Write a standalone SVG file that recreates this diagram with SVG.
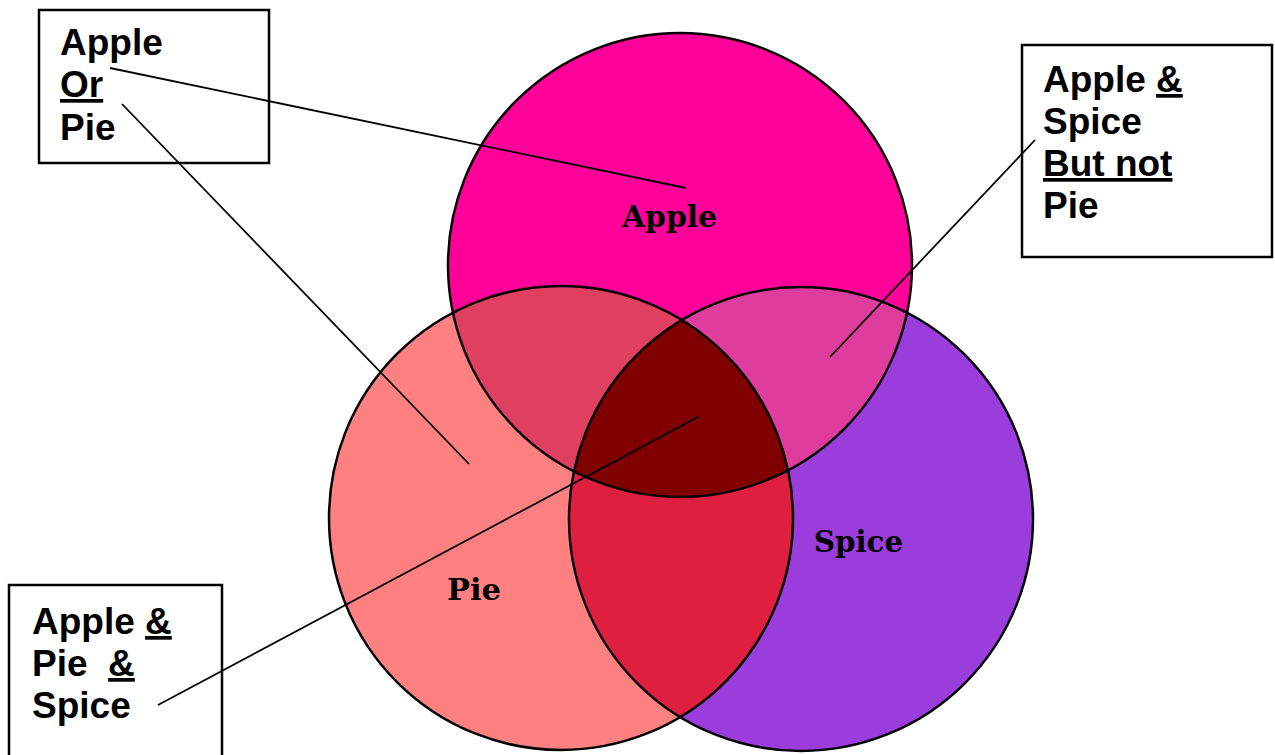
<svg xmlns="http://www.w3.org/2000/svg" width="1275" height="755" viewBox="0 0 1275 755">
  <style>
    .outline { fill: none; stroke: #000; stroke-width: 2.5; }
    .box { fill: #fff; stroke: #000; stroke-width: 2.5; }
    .btxt { font-family: "Liberation Sans", Arial, sans-serif; font-weight: bold; font-size: 37px; fill: #000; }
    .ctxt { font-family: "DejaVu Serif", "Liberation Serif", serif; font-weight: bold; font-size: 30px; fill: #000; }
    .u { text-decoration: underline; }
    .conn { stroke: #000; stroke-width: 1.8; fill: none; }
  </style>
  <defs>
    <clipPath id="cA"><circle cx="680" cy="265" r="232"/></clipPath>
    <clipPath id="cP"><circle cx="561" cy="518" r="232"/></clipPath>
    <clipPath id="cS"><circle cx="801" cy="519" r="232"/></clipPath>
  </defs>

  <rect x="0" y="0" width="1275" height="755" fill="#fff"/>

  <g id="pie-fill"><circle cx="561" cy="518" r="232" fill="#FF8080"/></g>
  <g id="spice-fill"><circle cx="801" cy="519" r="232" fill="#9B3DDD"/></g>
  <g id="apple-fill"><circle cx="680" cy="265" r="232" fill="#FF0099"/></g>

  <g id="overlaps">
    <circle cx="801" cy="519" r="232" fill="#DF1F3F" clip-path="url(#cP)"/>
    <circle cx="680" cy="265" r="232" fill="#DF4060" clip-path="url(#cP)"/>
    <circle cx="680" cy="265" r="232" fill="#DF3D9E" clip-path="url(#cS)"/>
    <g clip-path="url(#cP)">
      <circle cx="680" cy="265" r="232" fill="#800000" clip-path="url(#cS)"/>
    </g>
  </g>

  <g id="apple">
    <circle class="outline" cx="680" cy="265" r="232"/>
    <text class="ctxt" x="622" y="227" textLength="95" lengthAdjust="spacingAndGlyphs">Apple</text>
  </g>
  <g id="pie">
    <circle class="outline" cx="561" cy="518" r="232"/>
    <text class="ctxt" x="447" y="600" textLength="54" lengthAdjust="spacingAndGlyphs">Pie</text>
  </g>
  <g id="spice">
    <circle class="outline" cx="801" cy="519" r="232"/>
    <text class="ctxt" x="814" y="552" textLength="89" lengthAdjust="spacingAndGlyphs">Spice</text>
  </g>

  <g id="box-apple-or-pie">
    <rect class="box" x="39" y="10" width="230" height="153"/>
    <text class="btxt" x="60" y="55">Apple</text>
    <text class="btxt" x="60" y="97"><tspan class="u">Or</tspan></text>
    <text class="btxt" x="60" y="140">Pie</text>
  </g>

  <g id="box-apple-spice-not-pie">
    <rect class="box" x="1022" y="45" width="250" height="212"/>
    <text class="btxt" x="1043" y="92">Apple <tspan class="u">&amp;</tspan></text>
    <text class="btxt" x="1043" y="134">Spice</text>
    <text class="btxt" x="1043" y="176"><tspan class="u">But not</tspan></text>
    <text class="btxt" x="1043" y="218">Pie</text>
  </g>

  <g id="box-apple-pie-spice">
    <rect class="box" x="9" y="585" width="213" height="190"/>
    <text class="btxt" x="32" y="634">Apple <tspan class="u">&amp;</tspan></text>
    <text class="btxt" x="32" y="676" xml:space="preserve">Pie  <tspan class="u">&amp;</tspan></text>
    <text class="btxt" x="32" y="718">Spice</text>
  </g>

  <g id="connectors">
    <line class="conn" x1="110" y1="68" x2="686" y2="188"/>
    <line class="conn" x1="122" y1="104" x2="469" y2="464"/>
    <line class="conn" x1="1035" y1="140" x2="830" y2="357"/>
    <line class="conn" x1="698" y1="417" x2="158" y2="705"/>
  </g>
</svg>
